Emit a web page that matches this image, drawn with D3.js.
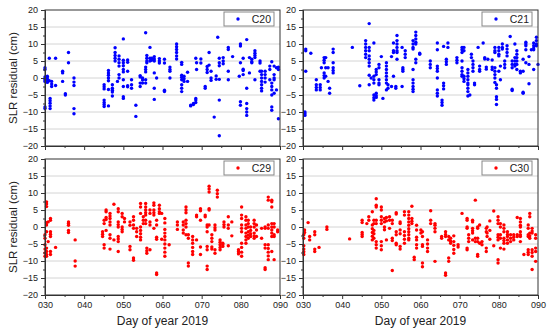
<!DOCTYPE html>
<html>
<head>
<meta charset="utf-8">
<script src="https://cdn.jsdelivr.net/npm/d3@7"></script>
<style>
  body { margin: 0; background: #fff; }
  svg { font-family: "Liberation Sans", Arial, sans-serif; }
</style>
</head>
<body>
<script>
// each entry: [day of year, [residuals in cm]]
var c20 = [
  [30.0, [3, 2.5, 0.3, -0.2, -0.6, -1, -8.5, -9]],
  [30.6, [0.5, 0, -0.5, -1, -1.3]],
  [31.1, [5.8, -0.8]],
  [31.3, [-6, -6.7, -7.4, -8.2, -9]],
  [31.7, [-1, -1.8, -2.5]],
  [32.7, [5.8, -2.2]],
  [34.5, [2, 1.5, -1]],
  [35.2, [-4.6, -5]],
  [36.0, [7.5, 4.5]],
  [37.4, [0, -1.2, -2.2, -9, -10.5]],
  [45.1, [-2, -2.6, -3.2, -6.5, -7.2, -7.8, -8.4]],
  [46.2, [2.2, 1.5, 0.8, 0, -0.8, -3.4, -8.2]],
  [47.2, [-2, -3, -3.6, -4.1, -5.3]],
  [47.9, [8.9, 7.5, 6.6, 5.8, 5]],
  [48.5, [-1]],
  [48.9, [6.5, 5.5, 4.5, 3.5, 1, 0]],
  [50.0, [11.5, 5.2, 4.5, 3.6, 2.5, 1.8, -0.5, -2.5, -5.5, -6]],
  [51.1, [5.3, 4.6, 2, -2.3, -2.6]],
  [52.1, [-0.5, -2, -3]],
  [53.2, [-8, -11.3]],
  [54.3, [0.7, 0.3, -1.5, -2.5]],
  [54.9, [0, -0.6, -1.5]],
  [55.7, [13.3, 3.2, 2.5, 1.8, -0.5, -1.5]],
  [56.0, [6.6, 5.8, 5, 4.5]],
  [56.8, [9, 5.8, 5]],
  [57.2, [5.8, 5.2]],
  [57.9, [6.3, 5.6, 5, 1.5, -3, -6.3]],
  [58.5, [0]],
  [59.2, [5.7, 5, 4.4]],
  [60.5, [5.5, 4.4, -3.6, -4]],
  [61.9, [3.2, 2.5, 2, 0]],
  [63.6, [10, 9.2, 8.4, 7.5, 6.5, 5.6]],
  [64.9, [4.6, 4, 0.8, 0.2, -0.5, -2, -3, -4]],
  [65.5, [0.5, -0.2, -1]],
  [66.4, [1.7, -1]],
  [67.2, [-8, -8.2]],
  [67.9, [-7.8, -7.5]],
  [68.5, [5.8, -6, -6.5, -7.2]],
  [68.7, [4.5, 2.5]],
  [69.8, [5.6, 4.4]],
  [70.9, [-2.5, -3]],
  [71.4, [3.4, 2.5, 1.6]],
  [71.9, [7.5, 3.8]],
  [72.4, [2, 0, -0.7]],
  [73.2, [-11.5]],
  [73.7, [0.6, -0.4]],
  [74.1, [12]],
  [74.5, [5.8, 4.5, 3.6, -0.4, -6.5, -17]],
  [75.5, [6, 5, 4.2]],
  [76.8, [9, 8.4, 2, -0.5]],
  [77.9, [6.3]],
  [79.6, [0.5]],
  [79.9, [10, 9.4, 4.5, -7, -8]],
  [80.6, [5.8, 2.6, 2.2, 1]],
  [81.5, [11.3, -3, -7.5, -9, -10, -11]],
  [82.2, [6, 1.5]],
  [82.8, [5.5, 4.8, 4.5]],
  [83.6, [8, 7.3, 6.6, 6, -0.5]],
  [84.9, [5, 4.4, 2]],
  [85.3, [2, 1, 0, -1, -2, -3, -3.8]],
  [86.2, [2, 1, 0, -1.2]],
  [87.4, [3.5, 2.5, -0.5]],
  [87.9, [4.8, -1.5, -2.5, -3.5, -5, -8.5, -9.5]],
  [88.5, [3.5, 1, 0, -0.5, -4.5]],
  [89.1, [3, -3.5]],
  [89.6, [3.2, 2.5, -12]]
];

var c21 = [
  [30.5, [-10, -10.5, -11]],
  [30.7, [8.5, 8, 2]],
  [32.0, [7.3]],
  [33.4, [-0.5, -2, -2.8, -3.5]],
  [34.4, [-2, -2.8, -3.5]],
  [34.7, [3]],
  [35.4, [6, 5.2, 4.5, 1.5, 0.7, 0]],
  [35.8, [6, 3, 0.5]],
  [36.4, [3, -1]],
  [36.8, [-3, -4.5]],
  [37.7, [8.5, 7.5, 4.5, 3, 2.2, 1.5]],
  [42.6, [9]],
  [44.5, [-2.3]],
  [46.0, [11, 10, 9, 8, 7, 6]],
  [46.9, [16, 9, 8, 6.5, 5.5, 4.5, 3.5, 0.8, -2]],
  [47.4, [0]],
  [48.1, [10.3, 0.5, -0.5, -1.5, -5, -5.8, -6.5]],
  [48.7, [2.5, 1.8, 1, -4.5, -5.2, -5.7]],
  [49.4, [4, 3, -0.5, -1.5, -2]],
  [50.0, [6.3]],
  [50.4, [-6]],
  [51.3, [4.5, 3.5, 2.5, 1.5, 0.5, -0.5, -1.5, -3.5]],
  [51.7, [-2, -3]],
  [52.6, [6.3, -2.5]],
  [53.1, [10.3, 8, 7.5, 0.5]],
  [53.7, [-2.5, -3]],
  [54.0, [12.5, 11, 10, 9, 8, 7.5, 5.5]],
  [55.3, [9, -2.5]],
  [55.5, [3, 2.5, 2]],
  [56.1, [8, 7, 6]],
  [58.1, [11, 10, 9, 8.5, 2.5, -0.5, -1.5, -2.5, -3.3, -4]],
  [58.8, [13.5, 12.5, 11.5, 10.5, 10, 5.5, 4.5]],
  [59.8, [7.3, 7]],
  [62.5, [5, 4, 3]],
  [64.3, [10.3, 8.3, 3.5, 2.8, 2, 0, -3.5, -4.5, -5.3]],
  [65.5, [-6.5, -7.2, -8]],
  [65.9, [9.3, -1.5, -2.3, -3.2]],
  [66.6, [5.5, 4.8, 4]],
  [67.0, [10.3, 9]],
  [69.3, [6, 5.2, 4.5]],
  [70.6, [9, 8.3, 7.5, 5, 3, 2, 1, 0.5]],
  [71.1, [9, 8, 0.5, -0.2, -1]],
  [72.1, [2.5, 1.5, 0.5, -0.5, -1.5, -2, -3, -4, -5.3]],
  [72.6, [-5]],
  [73.0, [7, 6]],
  [73.4, [5, 4, 3, 2]],
  [73.8, [-1.5, -2]],
  [74.7, [9]],
  [75.1, [3.5, 2.5, 2]],
  [76.0, [10.3]],
  [76.4, [6, 5.6]],
  [76.8, [3.2, 2.6]],
  [77.2, [5.5]],
  [78.3, [5.3, 3.2, 2.5]],
  [79.0, [9, 8, 7.5, 3, 2, 1, 0, -1.3]],
  [79.4, [-2, -3, -5.5, -6.3, -7.8]],
  [80.0, [9, 8, 7, 6.5, 2]],
  [80.4, [3.5, -0.5]],
  [80.9, [10, 9, 8.5]],
  [81.5, [5, 4, 3]],
  [82.1, [9.5, 8.5, 7.5, 6.5]],
  [82.9, [12.2]],
  [83.4, [5, 4, 3, -3.3, -3.7]],
  [84.1, [10, 6, 5, 4, 3.5]],
  [84.6, [8, 7, 6, 5, 4, 2.5]],
  [85.5, [2, 1.5]],
  [86.2, [5.5, 2, -4.2, -4.5]],
  [86.9, [10.5, 10, 9.5, 8.3, 4.5]],
  [87.7, [6.3, 4, -1.7]],
  [88.3, [8.3]],
  [88.9, [10.3, 9.5, 8.8, 8.3, 2.5]],
  [89.6, [12, 11, 10, 9.5]],
  [90.0, [4]]
];

var c29 = [
  [30.0, [-2.3, -3.3, -5.2, -6.5, -7.6, -8.6]],
  [30.4, [7.4, 6.8, 6, 1.3, 0.6, -1.4, -6.2, -7.2, -8.1, -8.6]],
  [30.8, [1.5, -4.3]],
  [31.4, [2.5, 2, -1.4, -2.1, -2.8, -7.2, -8.1]],
  [32.7, [-6]],
  [36.0, [1.5, 1, 0.5, -1, -1.6]],
  [37.7, [-3.8, -10, -11.5]],
  [44.7, [-1.4, -2.1, -2.8]],
  [45.1, [2, 1, -5.2, -6.2]],
  [45.6, [5, 4.5, 2.8, 2.2, -1]],
  [46.6, [4, 3.2, 2.5, 1.5, 0.6, -2.3, -3.3, -6.5]],
  [47.6, [6.7, -3.8]],
  [48.7, [5.4, 4.5, 1.5, 0.7, 0, -2.8, -3.5, -4.3, -7.2]],
  [49.7, [4, 3, 0, -0.7, -1.4]],
  [50.3, [2.5, 1.5]],
  [51.7, [1.5, 0.5, -5.7, -6.7]],
  [52.6, [3, 2, 0.6, -0.4, -9.1, -9.8]],
  [53.4, [-0.4, -1.4, -2.8]],
  [54.4, [6.9, 5.9, 4, 0, -1, -2, -3, -3.8]],
  [55.1, [3, 2, 1]],
  [55.7, [6.9, 5.9, 5, 4.2, 3.5, 2, 1]],
  [56.0, [-6.2, -7, -7.7]],
  [56.8, [5, 4, 1.5, 0.6, -6.7]],
  [57.8, [7.1, 6.4, 5, 4.2, 3.5, -0.4]],
  [58.5, [2, 0.6, -3, -3.6, -13.5, -14]],
  [59.2, [6.4, 5.4, 4.5, 4]],
  [59.8, [4, -3.6]],
  [60.6, [2.5, 1.2, -0.7, -1.8, -2.8, -3.8, -5, -6.2, -7.4, -8.6]],
  [61.7, [-5.2]],
  [63.8, [1.5, 0.6, -0.7]],
  [65.3, [1.5, 0.6, -0.9, -1.8]],
  [66.0, [5.9, 5, 4.2, 2, 1, 0, -2.3]],
  [66.6, [-2.3, -3.3, -10.6, -11.5]],
  [67.7, [-2.8, -3.8, -4.8, -6, -7.2, -8.1]],
  [68.7, [3.5, 3, -3.8]],
  [69.7, [5.4, 4.8, 2, -5.9, -8.1]],
  [70.9, [3.5, 3]],
  [71.4, [0.6, 0, -1.4, -5.7, -6.7, -11.5, -12.5]],
  [71.9, [12, 11.2, 10.3, 5.4, 5, 0.6]],
  [72.6, [-2.3, -3.3, -4.3, -5.9, -6.5]],
  [73.4, [0.6, -0.2, -0.9, -6.7, -7.7]],
  [74.0, [10.8, 9.8, 8.8]],
  [74.7, [-3.8, -4.5, -5.2, -6, -6.7]],
  [75.4, [-4.8, -5.2, -5.7]],
  [75.7, [1.5, 0.7, 0]],
  [76.8, [3, 0.6, -0.4, -5.5]],
  [77.7, [1.5, -2.6]],
  [79.4, [-6.7, -7.3, -7.9]],
  [80.2, [5.9, 3.5, 2.5, 0.6, -0.4, -1.4, -4.8, -6, -7.4, -8.6]],
  [81.3, [3, 2, 0.6, -0.4, -1.8, -2.8, -3.8, -4.8]],
  [81.9, [2, 1, 0, -1.4, -2.4, -3.3]],
  [82.5, [0, -1, -2, -2.8]],
  [83.4, [2, 1, 0, -1.8, -2.6, -3.3]],
  [84.0, [0.6, -0.9, -2.8]],
  [85.3, [-0.4, -3.3]],
  [86.2, [0, -0.4, -5.2, -6.2, -12, -12.5]],
  [87.0, [8.8, 7.9, 0.6, -0.4, -5.2, -6.3, -7.4, -8.5, -9.6]],
  [87.9, [7.9, 7.4, 5.9, 1, 0, -0.9, -1.8, -2.8, -7.2]],
  [88.5, [1, 0, -2.3, -2.8, -9.6]],
  [89.4, [-0.9, -1.4]]
];

var c30 = [
  [30.2, [-2.3, -3.3, -5.5, -6.5, -7.3, -8.1]],
  [30.4, [-0.9, -1.6]],
  [31.3, [1.3]],
  [31.7, [-2.8, -3.8]],
  [33.0, [-1.4, -2.3, -6.5, -7.2]],
  [34.1, [-6]],
  [36.1, [0, -0.7]],
  [41.9, [-3.5]],
  [45.1, [2, 1.3, -1.6, -2.2, -2.8]],
  [46.3, [1]],
  [46.8, [3, 2]],
  [47.7, [4.5, 0.6, -0.5, -1.6, -2.7, -3.8]],
  [48.1, [2, 1, -1, -2, -3.3]],
  [48.7, [8.3, 6.4, 5.9, 2, 1, -4.3, -5.2, -6.2]],
  [50.0, [5.9, 5, 3, 2, 1, -4.3, -5.5, -6.7]],
  [50.8, [2.5, 1.5, 0, -0.8]],
  [51.3, [2.8, 1.8, -3.8]],
  [52.1, [3, 2, -0.4]],
  [52.8, [2, 1, -3.3, -4, -12.8]],
  [53.8, [4.2, 3.8, -1.4, -2.3, -4.8, -5.2]],
  [54.8, [1.5, 1, -0.9, -2, -5.7, -6.5]],
  [55.9, [4.5, 3.5, -1.4, -2.5, -3.6, -4.8]],
  [57.0, [4.5, 3.5, 2.5, 1.5, 0.5, -0.5, -1.4, -2.3, -3.3, -3.8]],
  [57.8, [6.1, 2.5, 1.7, 1]],
  [58.4, [-8.9, -9.6]],
  [59.0, [0.5, -0.9, -3, -3.8, -5.2, -6.2]],
  [60.1, [-0.9, -1.8]],
  [60.5, [-1.4, -2.8, -5.2, -5.7, -10.6, -11.7]],
  [61.8, [-3.8, -5, -6.2, -7.2]],
  [62.6, [4.8, 2, 1]],
  [63.7, [1, 0.5, -0.4, -1.4, -10.1]],
  [65.4, [-2.8, -3.3]],
  [66.4, [-1.4, -2.2, -2.8, -13.5, -14.2]],
  [67.2, [-2.8, -3.8, -9.1, -10.1]],
  [67.7, [-3.3, -4.2, -4.8]],
  [68.5, [-2.6, -4.3, -5.4, -6.6, -7.7]],
  [69.6, [-5.2, -5.9]],
  [70.6, [4]],
  [71.9, [2.5, 2, 0, -0.4, -6.2, -6.7]],
  [72.3, [-2.3, -3.3, -4.3]],
  [73.3, [2, 1.5, -0.4, -1.1, -1.8, -3.8]],
  [74.0, [7.9, -3.3, -4.3]],
  [74.6, [0, -0.4, -3.3, -4.3, -8.1, -8.6]],
  [75.1, [0.6, -4.8]],
  [75.7, [-4.3, -5.2]],
  [76.8, [-0.4, -1.4, -6.2, -7.2]],
  [77.0, [0, -1.8, -2.8]],
  [77.7, [1.8, -1, -3.6]],
  [78.7, [4.7, -5.5]],
  [79.8, [3, 2, 1, -2.3, -3, -3.8, -9.6, -10.6]],
  [80.4, [1, 0, -2.3, -3.3, -6.2]],
  [81.3, [0.6, -0.4, -1.4, -3.3, -4, -4.8, -6.5]],
  [82.2, [-1.4, -2.2, -2.8, -3.8, -4.8]],
  [83.0, [-2.3, -3.3, -4.3]],
  [83.8, [-2.3, -3, -3.8]],
  [84.7, [2.8, -2.3, -2.8]],
  [85.5, [2.5, 1.5, 0.5, 0, -1.4, -2.3, -2.8, -4.3]],
  [86.4, [-8.1]],
  [87.5, [0.6, -0.4, -2.3, -2.8, -6.7, -7.4, -8.1]],
  [87.9, [4, 3, -1.8, -2.6, -3.3]],
  [88.5, [-0.4, -1.2, -1.8, -6.7, -7.5, -8.6, -12.5]],
  [89.4, [-2.3, -3.3, -6.2, -7.2, -10.1]]
];

var xTicks = [30, 40, 50, 60, 70, 80, 90];
var yTicks = [-20, -15, -10, -5, 0, 5, 10, 15, 20];
var yTitle = "SLR residual (cm)";
var xTitle = "Day of year 2019";

var W = 235, H = 136;
var panels = [
  {name: "C20", rows: c20, color: "#0000ff", left: 45,  top: 10,  xlabels: false, ytitle: true},
  {name: "C21", rows: c21, color: "#0000ff", left: 303, top: 10,  xlabels: false, ytitle: false},
  {name: "C29", rows: c29, color: "#ff0000", left: 45,  top: 159, xlabels: true,  ytitle: true},
  {name: "C30", rows: c30, color: "#ff0000", left: 303, top: 159, xlabels: true,  ytitle: false}
];

var svg = d3.select("body").append("svg")
    .attr("width", 550)
    .attr("height", 333);

var x = d3.scaleLinear().domain([30, 90]).range([0, W]);
var y = d3.scaleLinear().domain([-20, 20]).range([H, 0]);
var fmt = d3.format("03d");

panels.forEach(function(p) {
  var g = svg.append("g").attr("transform", "translate(" + p.left + "," + p.top + ")");

  // grid lines
  g.append("g").selectAll("line")
    .data(yTicks.filter(function(t) { return t > -20 && t < 20; }))
    .join("line")
    .attr("x1", 0).attr("x2", W)
    .attr("y1", function(d) { return y(d); })
    .attr("y2", function(d) { return y(d); })
    .attr("stroke", "#d4d4d4")
    .attr("stroke-width", 1);

  // points
  var pts = [];
  p.rows.forEach(function(r) {
    r[1].forEach(function(v) { pts.push([r[0], v]); });
  });
  g.append("g").selectAll("circle")
    .data(pts)
    .join("circle")
    .attr("cx", function(d) { return x(d[0]); })
    .attr("cy", function(d) { return y(d[1]); })
    .attr("r", 1.7)
    .attr("fill", p.color);

  // frame
  g.append("rect")
    .attr("width", W).attr("height", H)
    .attr("fill", "none")
    .attr("stroke", "#333")
    .attr("stroke-width", 1);

  // left axis
  var ya = g.append("g")
    .call(d3.axisLeft(y).tickValues(yTicks).tickSize(4).tickPadding(3));
  ya.select(".domain").attr("stroke", "#333");
  ya.selectAll(".tick line").attr("stroke", "#333");
  ya.selectAll("text").attr("font-size", 9).attr("fill", "#222")
    .attr("font-family", "Liberation Sans, Arial, sans-serif");
  g.append("g")
    .call(d3.axisLeft(y).tickValues(d3.range(-17.5, 20, 5)).tickSize(2).tickFormat(""))
    .call(function(s) { s.select(".domain").remove(); s.selectAll("line").attr("stroke", "#333"); });

  // bottom axis
  var xa = g.append("g").attr("transform", "translate(0," + H + ")")
    .call(d3.axisBottom(x).tickValues(xTicks).tickSize(4).tickPadding(3)
      .tickFormat(p.xlabels ? fmt : ""));
  xa.select(".domain").attr("stroke", "#333");
  xa.selectAll(".tick line").attr("stroke", "#333");
  xa.selectAll("text").attr("font-size", 9).attr("fill", "#222")
    .attr("font-family", "Liberation Sans, Arial, sans-serif");
  g.append("g").attr("transform", "translate(0," + H + ")")
    .call(d3.axisBottom(x).tickValues(d3.range(35, 90, 10)).tickSize(2).tickFormat(""))
    .call(function(s) { s.select(".domain").remove(); s.selectAll("line").attr("stroke", "#333"); });

  // legend
  var lg = g.append("g").attr("transform", "translate(" + (W - 56) + ",2)");
  lg.append("rect")
    .attr("width", 50).attr("height", 14)
    .attr("fill", "#fff")
    .attr("stroke", "#888");
  lg.append("circle").attr("cx", 14).attr("cy", 7).attr("r", 1.7).attr("fill", p.color);
  lg.append("text")
    .attr("x", 47).attr("y", 11)
    .attr("text-anchor", "end")
    .attr("font-size", 10.5)
    .attr("fill", "#222")
    .text(p.name);

  if (p.ytitle) {
    g.append("text")
      .attr("transform", "translate(-28," + (H / 2) + ") rotate(-90)")
      .attr("text-anchor", "middle")
      .attr("font-size", 11.5)
      .attr("fill", "#222")
      .text(yTitle);
  }
  if (p.xlabels) {
    g.append("text")
      .attr("x", W / 2).attr("y", H + 30)
      .attr("text-anchor", "middle")
      .attr("font-size", 12)
      .attr("fill", "#222")
      .text(xTitle);
  }
});
</script>
</body>
</html>
